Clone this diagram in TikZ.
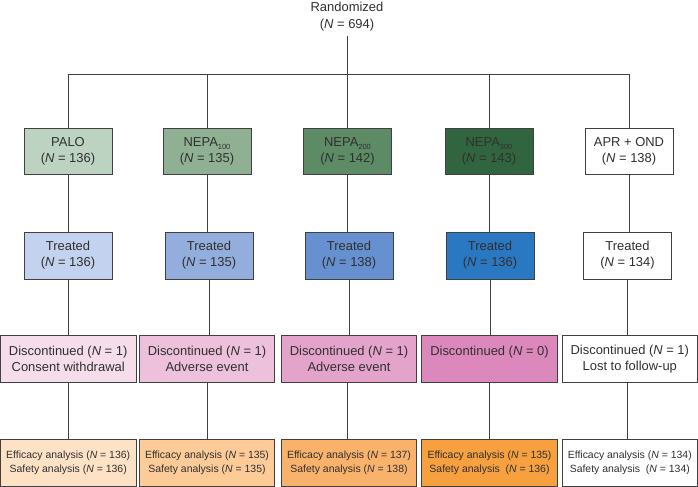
\documentclass[tikz,border=0pt]{standalone}
\usepackage{fontspec}
\setmainfont{Liberation Sans}
\definecolor{linegray}{HTML}{404040}
\definecolor{txt}{HTML}{303030}
\definecolor{gA}{HTML}{BCD3C1}
\definecolor{gB}{HTML}{8FB092}
\definecolor{gC}{HTML}{5D8B66}
\definecolor{gD}{HTML}{30653F}
\definecolor{bA}{HTML}{C3D2EE}
\definecolor{bB}{HTML}{93AEDD}
\definecolor{bC}{HTML}{6690D0}
\definecolor{bD}{HTML}{2A78C1}
\definecolor{pA}{HTML}{F6DDEB}
\definecolor{pB}{HTML}{EDC0DB}
\definecolor{pC}{HTML}{E3A3CB}
\definecolor{pD}{HTML}{DC88BC}
\definecolor{oA}{HTML}{FEE2C6}
\definecolor{oB}{HTML}{FCCB98}
\definecolor{oC}{HTML}{F9B26C}
\definecolor{oD}{HTML}{F6A040}
\newcommand{\NN}{\textit{N}}
\newcommand{\nsub}[1]{\raisebox{-3.5bp}{\fontsize{7.5}{7.5}\selectfont #1}}
\begin{document}
\begin{tikzpicture}[x=1bp,y=-1bp,
  conn/.style={draw=linegray, line width=0.8bp},
  box/.style={draw=linegray, line width=0.8bp, inner sep=0pt, align=center, text=txt},
  armbox/.style={box, minimum width=88bp, minimum height=46bp, font=\fontsize{13}{16}\selectfont},
  wide/.style={box, minimum width=135.5bp, minimum height=47.5bp, font=\fontsize{13}{15.5}\selectfont},
  effbox/.style={box, minimum width=135.5bp, minimum height=47.5bp, font=\fontsize{10.5}{14.5}\selectfont}]
\useasboundingbox (0,0) rectangle (698,487);
\node[font=\fontsize{13}{17}\selectfont, text=txt, align=center, inner sep=0pt] (rand) at (347,17) {Randomized\\(\NN{} = 694)};
\coordinate (bus) at (347,74);

% row 1
\node[armbox, fill=gA] (a1) at (68,151) {PALO\\(\NN{} = 136)};
\node[armbox, fill=gB] (b1) at (207,151) {NEPA\nsub{100}\\(\NN{} = 135)};
\node[armbox, fill=gC] (c1) at (347.5,151) {NEPA\nsub{200}\\(\NN{} = 142)};
\node[armbox, fill=gD] (d1) at (489,151) {NEPA\nsub{300}\\(\NN{} = 143)};
\node[armbox, fill=white] (e1) at (629,151) {APR + OND\\(\NN{} = 138)};

% row 2
\node[armbox, fill=bA, minimum height=47bp] (a2) at (68,255.5) {Treated\\(\NN{} = 136)};
\node[armbox, fill=bB, minimum height=47bp] (b2) at (209,255.5) {Treated\\(\NN{} = 135)};
\node[armbox, fill=bC, minimum height=47bp] (c2) at (349,255.5) {Treated\\(\NN{} = 138)};
\node[armbox, fill=bD, minimum height=47bp] (d2) at (490,255.5) {Treated\\(\NN{} = 136)};
\node[armbox, fill=white, minimum height=47bp] (e2) at (627.5,255.5) {Treated\\(\NN{} = 134)};

% row 3
\node[wide, fill=pA] (a3) at (68.2,359) {Discontinued (\NN{} = 1)\\Consent withdrawal};
\node[wide, fill=pB] (b3) at (207,359) {Discontinued (\NN{} = 1)\\Adverse event};
\node[wide, fill=pC] (c3) at (349,359) {Discontinued (\NN{} = 1)\\Adverse event};
\node[wide, fill=pD] (d3) at (489.5,359) {Discontinued (\NN{} = 0)\\\mbox{}};
\node[wide, fill=white] (e3) at (629.8,359) {Discontinued (\NN{} = 1)\\Lost to follow-up};

% row 4
\node[effbox, fill=oA] (a4) at (68.2,462.7) {Efficacy analysis (\NN{} = 136)\\Safety analysis (\NN{} = 136)};
\node[effbox, fill=oB] (b4) at (207,462.7) {Efficacy analysis (\NN{} = 135)\\Safety analysis (\NN{} = 135)};
\node[effbox, fill=oC] (c4) at (349,462.7) {Efficacy analysis (\NN{} = 137)\\Safety analysis (\NN{} = 138)};
\node[effbox, fill=oD] (d4) at (489.5,462.7) {Efficacy analysis (\NN{} = 135)\\Safety analysis~ (\NN{} = 136)};
\node[effbox, fill=white] (e4) at (629.8,462.7) {Efficacy analysis (\NN{} = 134)\\Safety analysis~ (\NN{} = 134)};

% connectors
\draw[conn, shorten <=4bp] (rand.south) -- (bus);
\draw[conn] (a1.north) -- (a1.north |- bus) -| (e1.north);
\draw[conn] (b1.north) -- (b1.north |- bus);
\draw[conn] (c1.north) -- (c1.north |- bus);
\draw[conn] (d1.north) -- (d1.north |- bus);

\draw[conn] (a1.south) -- (a1.south |- a2.north);
\draw[conn] (b1.south) -- (b1.south |- b2.north);
\draw[conn] (c1.south) -- (c1.south |- c2.north);
\draw[conn] (d1.south) -- (d1.south |- d2.north);
\draw[conn] (e1.south) -- (e1.south |- e2.north);

\draw[conn] (a2.south) -- (a2.south |- a3.north);
\draw[conn] (b2.south) -- (b2.south |- b3.north);
\draw[conn] (c2.south) -- (c2.south |- c3.north);
\draw[conn] (d2.south) -- (d2.south |- d3.north);
\draw[conn] (e2.south) -- (e2.south |- e3.north);

\draw[conn] (a3.south -| a2.south) -- (a2.south |- a4.north);
\draw[conn] (b3.south -| b1.south) -- (b1.south |- b4.north);
\draw[conn] (c3.south -| c1.south) -- (c1.south |- c4.north);
\draw[conn] (d3.south -| d1.south) -- (d1.south |- d4.north);
\draw[conn] (e3.south -| e2.south) -- (e2.south |- e4.north);
\end{tikzpicture}
\end{document}
